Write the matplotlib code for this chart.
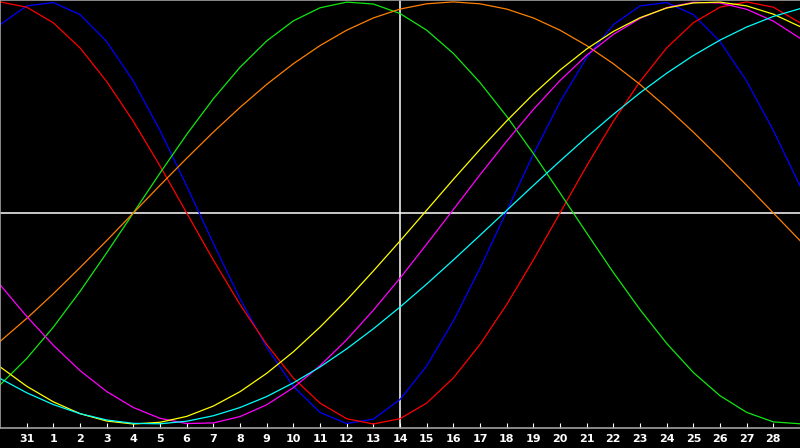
import matplotlib
matplotlib.use("Agg")
import matplotlib.pyplot as plt

# -----------------------------
# Data (one sample per day)
# -----------------------------
day_index = list(range(31))
day_labels = ["31"] + [str(d) for d in range(1, 29)]
tick_index = list(range(1, 30))

red = [1.000, 0.975, 0.901, 0.782, 0.623, 0.434, 0.223, 0.000, -0.223, -0.434,
       -0.623, -0.782, -0.901, -0.975, -1.000, -0.975, -0.901, -0.782, -0.623, -0.434,
       -0.223, 0.000, 0.223, 0.434, 0.623, 0.782, 0.901, 0.975, 1.000, 0.975, 0.901]

blue = [0.892, 0.981, 0.997, 0.940, 0.812, 0.625, 0.391, 0.128, -0.144, -0.406,
        -0.637, -0.822, -0.945, -0.998, -0.977, -0.884, -0.725, -0.512, -0.262, 0.008,
        0.278, 0.526, 0.736, 0.892, 0.981, 0.997, 0.940, 0.812, 0.625, 0.391, 0.128]

green = [-0.815, -0.690, -0.541, -0.372, -0.189, 0.000, 0.189, 0.372, 0.541, 0.690,
         0.815, 0.910, 0.972, 0.999, 0.990, 0.945, 0.866, 0.756, 0.618, 0.458,
         0.282, 0.095, -0.095, -0.282, -0.458, -0.618, -0.756, -0.866, -0.945, -0.990, -0.999]

orange = [-0.609, -0.500, -0.383, -0.259, -0.131, 0.000, 0.131, 0.259, 0.383, 0.500,
          0.609, 0.707, 0.793, 0.866, 0.924, 0.966, 0.991, 1.000, 0.991, 0.966,
          0.924, 0.866, 0.793, 0.707, 0.609, 0.500, 0.383, 0.259, 0.131, 0.000, -0.131]

yellow = [-0.729, -0.821, -0.895, -0.951, -0.986, -1.000, -0.992, -0.964, -0.915, -0.847,
          -0.760, -0.658, -0.541, -0.413, -0.275, -0.133, 0.013, 0.159, 0.301, 0.436,
          0.563, 0.677, 0.777, 0.860, 0.925, 0.971, 0.995, 0.999, 0.981, 0.942, 0.883]

magenta = [-0.340, -0.490, -0.627, -0.747, -0.846, -0.922, -0.973, -0.998, -0.995, -0.965,
           -0.909, -0.828, -0.724, -0.601, -0.461, -0.309, -0.148, 0.016, 0.181, 0.340,
           0.490, 0.627, 0.747, 0.846, 0.922, 0.973, 0.998, 0.995, 0.965, 0.909, 0.828]

cyan = [-0.784, -0.852, -0.908, -0.951, -0.981, -0.997, -0.999, -0.987, -0.961, -0.922,
        -0.870, -0.805, -0.730, -0.644, -0.549, -0.446, -0.337, -0.223, -0.106, 0.012,
        0.130, 0.246, 0.359, 0.467, 0.569, 0.662, 0.746, 0.819, 0.881, 0.931, 0.968]

today_index = 15

# -----------------------------
# Figure
# -----------------------------
fig = plt.figure(figsize=(8, 4.48), dpi=100, facecolor="black")
ax = fig.add_axes([0, 1 - 428 / 448, 1, 428 / 448], facecolor="black")

# crosshair
ax.axhline(0, color="white", lw=1.1, zorder=1)
ax.axvline(today_index, color="white", lw=1.1, zorder=1)

series = [
    (blue, "#0000ff"),
    (red, "#ff0000"),
    (green, "#10e810"),
    (orange, "#ff8000"),
    (magenta, "#ff00ff"),
    (yellow, "#ffff00"),
    (cyan, "#00ffff"),
]
for values, color in series:
    ax.plot(day_index, values, color=color, lw=0.9, zorder=2)

ax.set_xlim(0, 30)
ax.set_ylim(-1.019, 1.009)

ax.set_xticks(tick_index)
ax.set_xticklabels(day_labels, color="white", fontsize=8, fontweight="bold")
ax.tick_params(axis="x", direction="in", length=3.6, width=0.8, color="white", pad=4.5)
ax.set_yticks([])

for side in ["left", "top", "bottom"]:
    ax.spines[side].set_color("#a0a0a0")
    ax.spines[side].set_linewidth(1.2)
ax.spines["right"].set_visible(False)

fig.savefig("out.png", dpi=100, facecolor="black")
